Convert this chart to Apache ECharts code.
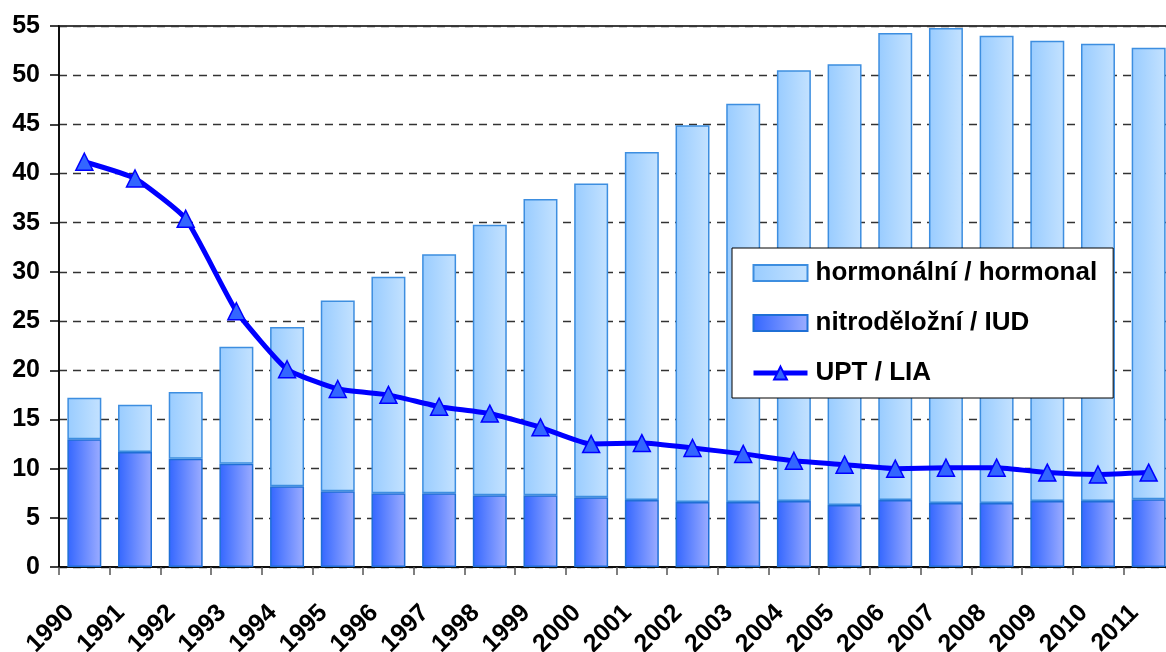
<!DOCTYPE html>
<html>
<head>
<meta charset="utf-8">
<script src="https://cdn.jsdelivr.net/npm/echarts@6/dist/echarts.min.js"></script>
<style>
  html, body { margin: 0; padding: 0; background: #fff; }
  #chart { width: 1166px; height: 652px; }
</style>
</head>
<body>
<div id="chart"></div>
<script>
const years = ['1990', '1991', '1992', '1993', '1994', '1995', '1996', '1997', '1998', '1999', '2000',
  '2001', '2002', '2003', '2004', '2005', '2006', '2007', '2008', '2009', '2010', '2011']

// nitroděložní / IUD (bottom of stack)
const iud = [13.0, 11.7, 11.0, 10.5, 8.2, 7.7, 7.5, 7.5, 7.3, 7.3, 7.1,
  6.8, 6.6, 6.6, 6.7, 6.3, 6.8, 6.5, 6.5, 6.7, 6.7, 6.9]

// hormonální / hormonal (stacked on top)
const hormonal = [4.2, 4.8, 6.8, 11.9, 16.2, 19.4, 22.0, 24.3, 27.5, 30.1, 31.9,
  35.4, 38.3, 40.5, 43.8, 44.8, 47.5, 48.3, 47.5, 46.8, 46.5, 45.9]

// UPT / LIA
const upt = [41.2, 39.5, 35.4, 26.0, 20.1, 18.1, 17.5, 16.3, 15.6, 14.2, 12.5,
  12.6, 12.1, 11.5, 10.8, 10.4, 10.0, 10.1, 10.1, 9.6, 9.4, 9.6]

const yTicks = [0, 5, 10, 15, 20, 25, 30, 35, 40, 45, 50, 55]

const font = "'Liberation Sans', Arial, sans-serif"
const labelPos = years.map((y, i) => i)

const chart = echarts.init(document.getElementById('chart'))

const option = {
  animation: false,
  grid: {
    left: 59,
    right: -8,
    top: 26,
    bottom: 85,
    outerBoundsMode: 'none',
    containLabel: false,
    show: true,
    borderColor: '#000',
    borderWidth: 1.5,
    backgroundColor: 'transparent'
  },
  legend: {
    orient: 'vertical',
    left: 732,
    top: 248,
    padding: [12, 16, 12, 19],
    itemGap: 24,
    itemWidth: 54,
    itemHeight: 16,
    backgroundColor: '#fff',
    borderColor: '#000',
    borderWidth: 1,
    data: [
      { name: 'hormonální / hormonal', icon: 'rect' },
      { name: 'nitroděložní / IUD', icon: 'rect' },
      { name: 'UPT / LIA', lineStyle: { width: 5 } }
    ],
    textStyle: {
      fontFamily: font,
      fontWeight: 'bold',
      fontSize: 26,
      lineHeight: 26,
      color: '#000',
      padding: [0, 0, 0, 3]
    }
  },
  xAxis: [
    {
      type: 'category',
      data: years,
      boundaryGap: true,
      axisLine: { lineStyle: { color: '#000', width: 1.5 } },
      axisTick: { show: true, length: 8, lineStyle: { color: '#555', width: 1.5 } },
      axisLabel: { show: false }
    },
    {
      // label positions only: ticks at the category boundaries
      type: 'value',
      position: 'bottom',
      min: -0.22,
      max: 21.78,
      axisLine: { show: false },
      axisTick: { show: false },
      splitLine: { show: false },
      axisLabel: {
        customValues: labelPos,
        rotate: 45,
        margin: 42,
        fontFamily: font,
        fontWeight: 'bold',
        fontSize: 25,
        color: '#000',
        formatter: v => years[Math.round(v)]
      }
    }
  ],
  yAxis: {
    type: 'value',
    min: 0,
    max: 55,
    interval: 5,
    axisLine: { show: true, onZero: false, lineStyle: { color: '#000', width: 1.5 } },
    axisTick: { show: true, length: 9, lineStyle: { color: '#000', width: 1.5 } },
    axisLabel: {
      margin: 19,
      fontFamily: font,
      fontWeight: 'bold',
      fontSize: 25,
      color: '#000',
      formatter: v => (yTicks.indexOf(v) >= 0 ? String(v) : '')
    },
    splitLine: {
      lineStyle: { color: '#333', type: [8, 6], width: 1.3 }
    }
  },
  series: [
    {
      name: 'nitroděložní / IUD',
      type: 'bar',
      stack: 'total',
      barCategoryGap: '33%',
      data: iud,
      itemStyle: {
        color: new echarts.graphic.LinearGradient(0, 0, 1, 0, [
          { offset: 0, color: '#3366ff' },
          { offset: 1, color: '#9dadff' }
        ]),
        borderColor: '#1f6fd6',
        borderWidth: 1.5
      }
    },
    {
      name: 'hormonální / hormonal',
      type: 'bar',
      stack: 'total',
      data: hormonal,
      itemStyle: {
        color: new echarts.graphic.LinearGradient(0, 0, 1, 0, [
          { offset: 0, color: '#99ccff' },
          { offset: 1, color: '#c4e2ff' }
        ]),
        borderColor: '#3d8ee0',
        borderWidth: 1.5
      }
    },
    {
      name: 'UPT / LIA',
      type: 'line',
      data: upt,
      smooth: 0.15,
      z: 5,
      symbol: 'triangle',
      symbolSize: 17,
      lineStyle: { color: '#0000ff', width: 5 },
      itemStyle: { color: '#3366ff', borderColor: '#0000ff', borderWidth: 1.5 }
    }
  ]
}

chart.setOption(option)
</script>
</body>
</html>
